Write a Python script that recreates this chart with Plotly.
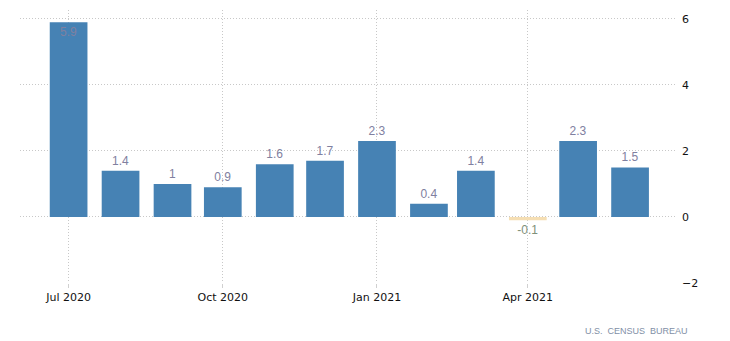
import plotly.graph_objects as go

months = ["2020-07-01", "2020-08-01", "2020-09-01", "2020-10-01", "2020-11-01", "2020-12-01",
          "2021-01-01", "2021-02-01", "2021-03-01", "2021-04-01", "2021-05-01", "2021-06-01"]
values = [5.9, 1.4, 1, 0.9, 1.6, 1.7, 2.3, 0.4, 1.4, -0.1, 2.3, 1.5]
labels = ["5.9", "1.4", "1", "0.9", "1.6", "1.7", "2.3", "0.4", "1.4", "-0.1", "2.3", "1.5"]
tick_vals = ["2020-07-01", "2020-10-01", "2021-01-01", "2021-04-01"]
tick_text = ["Jul 2020", "Oct 2020", "Jan 2021", "Apr 2021"]

colors = ["#4682b4" if v >= 0 else "#f5deb3" for v in values]
positions = ["inside" if v > 5 else "outside" for v in values]
txtcolors = ["#8080a0" if v >= 0 else "#80907a" for v in values]

fig = go.Figure(go.Bar(
    x=months, y=values, text=labels, textposition=positions,
    insidetextanchor="end",
    textfont=dict(size=12, color=txtcolors, family="Liberation Sans"),
    marker=dict(color=colors, line=dict(width=0)),
    width=[0.74 * 30.4 * 86400000] * len(values),
    cliponaxis=False, constraintext="none",
))

fig.update_layout(
    width=730, height=341,
    margin=dict(l=20, r=53, t=10, b=58),
    plot_bgcolor="white", paper_bgcolor="white",
    showlegend=False,
    font=dict(family="DejaVu Sans", size=11, color="#111111"),
    xaxis=dict(
        type="date", range=["2020-06-02", "2021-06-29"],
        tickvals=tick_vals, ticktext=tick_text,
        showgrid=True, gridcolor="#c8c8c8", griddash="1px,2px", gridwidth=1,
        ticks="outside", ticklen=4, tickcolor="#d0d0d0",
        showline=False, zeroline=False,
    ),
    yaxis=dict(
        side="right", range=[-2, 6.27], tickvals=[-2, 0, 2, 4, 6],
        showgrid=True, gridcolor="#c8c8c8", griddash="1px,2px", gridwidth=1,
        zeroline=False, showline=False, ticks="", ticklabelstandoff=4,
    ),
    annotations=[dict(
        text="U.S.  CENSUS  BUREAU", xref="paper", yref="paper",
        x=1.02, y=-0.175, xanchor="right", yanchor="middle",
        showarrow=False, font=dict(size=9, color="#7f8fa6", family="Liberation Sans"),
    )],
)

fig.write_html("out.html")
